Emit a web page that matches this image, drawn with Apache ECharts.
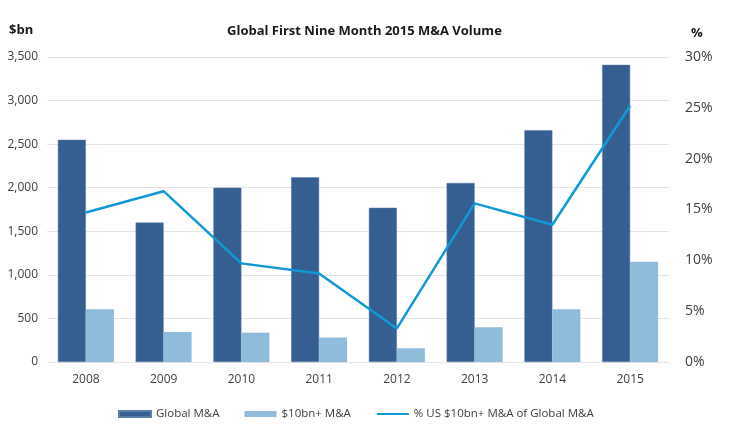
<!DOCTYPE html>
<html><head><meta charset="utf-8">
<script src="https://cdn.jsdelivr.net/npm/echarts@6/dist/echarts.min.js"></script>
<style>html,body{margin:0;padding:0;background:#fff}#c{width:736px;height:430px}</style>
</head><body><div id="c"></div>
<script>
const categories = ['2008','2009','2010','2011','2012','2013','2014','2015'];
const globalMA = [2550, 1600, 2000, 2120, 1770, 2055, 2660, 3410];
const bigMA = [605, 345, 337, 280, 157, 399, 606, 1150];
const usShare = [14.7, 16.8, 9.7, 8.7, 3.3, 15.6, 13.5, 25.2];
const leftTicks = {min: 0, max: 3500, interval: 500};
const rightTicks = {min: 0, max: 30, interval: 5};

const font = 'Open Sans';
const chart = echarts.init(document.getElementById('c'), null, {renderer: 'canvas'});
chart.setOption({
  animation: false,
  backgroundColor: '#fff',
  textStyle: {fontFamily: font},
  title: {
    text: 'Global First Nine Month 2015 M&A Volume',
    left: 222, top: 20,
    textStyle: {fontFamily: font, fontSize: 13, fontWeight: 'bold', color: '#1a1a1a'}
  },
  graphic: [
    {type: 'text', left: 9, top: 24, style: {text: '$bn', font: 'bold 13px "Open Sans"', fill: '#1a1a1a'}},
    {type: 'text', left: 691, top: 27, style: {text: '%', font: 'bold 13px "Open Sans"', fill: '#1a1a1a'}}
  ],
  legend: {
    top: 403, left: 113, itemGap: 25, itemWidth: 32, itemHeight: 6,
    textStyle: {fontFamily: font, fontSize: 11.5, color: '#404040'},
    data: [
      {name: 'Global M&A', icon: 'rect'},
      {name: '$10bn+ M&A', icon: 'rect'},
      {name: '% US $10bn+ M&A of Global M&A', itemStyle: {opacity: 0}}
    ]
  },
  grid: {left: 47, right: 67, top: 57, bottom: 68},
  xAxis: {
    type: 'category', data: categories,
    axisLine: {show: false}, axisTick: {show: false},
    axisLabel: {fontFamily: font, fontSize: 12, color: '#404040', margin: 12}
  },
  yAxis: [
    {
      type: 'value', min: leftTicks.min, max: leftTicks.max, interval: leftTicks.interval,
      axisLine: {show: false}, axisTick: {show: false},
      splitLine: {lineStyle: {color: '#e4e4e4', width: 1}},
      axisLabel: {fontFamily: font, fontSize: 12, color: '#404040', margin: 9,
        formatter: v => v.toLocaleString('en-US')}
    },
    {
      type: 'value', min: rightTicks.min, max: rightTicks.max, interval: rightTicks.interval,
      axisLine: {show: false}, axisTick: {show: false}, splitLine: {show: false},
      axisLabel: {fontFamily: font, fontSize: 14, color: '#404040', margin: 16,
        formatter: v => v + '%'}
    }
  ],
  series: [
    {name: 'Global M&A', type: 'bar', data: globalMA, barWidth: 28, barGap: '0%',
      itemStyle: {color: '#365f91', borderColor: '#5a7fa8', borderWidth: 0.5}},
    {name: '$10bn+ M&A', type: 'bar', data: bigMA, barWidth: 28, barGap: '0%',
      itemStyle: {color: '#8fbcdb'}},
    {name: '% US $10bn+ M&A of Global M&A', type: 'line', yAxisIndex: 1, data: usShare,
      symbol: 'none', lineStyle: {color: '#1199d6', width: 2.5}, itemStyle: {color: '#1199d6'}}
  ]
});
</script></body></html>
